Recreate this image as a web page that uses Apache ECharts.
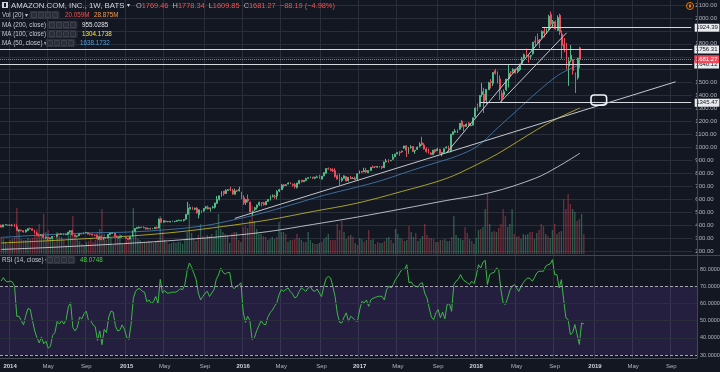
<!DOCTYPE html>
<html><head><meta charset="utf-8">
<script src="https://cdn.jsdelivr.net/npm/echarts/dist/echarts.min.js"></script>
<style>html,body{margin:0;padding:0;background:#131722;overflow:hidden}#c{width:720px;height:372px}</style>
</head><body><div id="c"></div><script>
// ---------- weekly categories (Mon dates), Dec 9 2013 onward ----------
const startWeek = [2013, 11, 9];
const weekCount = 311;
const categories = [];
(function(){ let t = Date.UTC(startWeek[0], startWeek[1], startWeek[2]);
  for (let i = 0; i < weekCount; i++) { categories.push(new Date(t).toISOString().slice(0,10)); t += 7*86400000; } })();

// ---------- weekly OHLC ----------
const opens = [
 399,385,402,401,
 398,398,400,386,358,362,357,347,358,373,372,363,338,320,320,326,301,306,297,298,315,313,330,328,331,325,327,346,358,323,313,318,334,332,342,342,332,331,323,322,293,312,288,305,300,328,337,338,316,305,306,316,
 307,297,292,311,350,375,377,384,380,379,371,374,370,372,382,377,449,423,432,427,425,428,428,430,436,434,436,445,484,527,537,523,532,480,506,509,530,537,528,536,538,567,599,627,663,644,668,675,668,638,667,665,
 656,612,577,601,578,505,520,536,556,573,571,557,584,596,622,624,625,663,673,711,706,717,724,714,711,691,722,748,735,745,761,767,771,761,769,776,755,780,800,836,832,825,820,782,764,745,762,775,743,766,759,763,
 757,798,815,812,823,807,822,848,851,847,851,852,843,888,899,896,908,927,951,962,967,995,1012,962,999,1007,972,985,1010,1036,1019,988,978,957,946,984,974,985,949,960,995,1009,973,1100,1118,1129,1141,1202,1173,1164,1188,1168,
 1172,1236,1324,1316,1409,1411,1364,1446,1509,1494,1592,1554,1530,1417,1406,1445,1529,1582,1589,1604,1585,1600,1648,1690,1724,1702,1705,1724,1821,1829,1827,1848,1898,1891,1916,2027,1958,1971,1903,2021,1876,1795,1784,1628,1673,1678,1577,1539,1769.46];
const closes = [
 384.2,402.2,404.4,398.0,
 397.7,399.6,387.6,358.7,361.1,357.4,346.8,362.1,372.1,370.6,360.6,338.5,323.7,317.1,324.9,303.8,308.0,297.6,297.7,312.2,312.6,329.7,327.3,332.2,324.6,327.9,346.2,355.9,324.0,312.4,316.8,333.2,331.6,339.0,342.7,331.3,331.3,323.4,322.1,294.5,311.0,287.1,305.5,299.9,327.8,339.5,338.6,316.5,307.7,306.1,316.7,308.5,
 296.9,290.7,312.4,354.5,374.3,381.8,383.7,380.2,380.1,370.6,373.2,370.6,372.3,382.7,375.6,445.1,421.8,433.7,426.0,427.6,429.2,430.8,429.9,434.9,438.1,437.7,443.5,483.0,529.4,536.2,522.6,531.5,494.5,518.0,499.0,529.4,540.3,524.3,532.5,539.8,570.8,599.0,625.9,659.4,642.4,668.5,673.3,672.6,640.2,664.1,662.8,675.9,
 607.1,570.2,596.4,587.0,502.1,507.1,534.1,555.2,575.1,569.5,558.2,582.9,598.5,620.8,625.9,620.5,659.6,674.0,709.9,702.8,712.2,725.5,717.9,707.9,699.0,725.7,745.8,735.4,744.9,758.8,766.6,772.6,764.5,769.5,772.4,760.1,778.5,804.7,837.3,834.0,823.0,819.0,776.3,755.1,739.0,760.2,780.4,740.3,768.7,757.8,760.6,749.9,
 796.0,817.1,808.3,823.3,810.1,821.4,845.9,845.2,849.5,852.3,853.0,845.6,886.5,894.9,884.7,898.5,925.0,949.0,961.4,959.8,971.5,1011.3,978.3,987.7,1003.7,968.0,978.8,1001.8,1025.7,1020.0,987.6,968.0,958.5,945.3,978.3,965.9,986.8,955.1,961.4,989.6,1002.9,982.9,1101.0,1120.7,1125.4,1129.9,1186.0,1162.4,1162.0,1179.1,1168.4,1169.5,
 1229.1,1305.2,1294.6,1402.1,1430.0,1339.6,1448.7,1500.0,1500.2,1578.9,1571.7,1495.6,1447.3,1372.0,1430.8,1527.8,1572.6,1581.0,1602.9,1574.4,1610.2,1641.5,1684.0,1716.0,1715.7,1699.8,1710.6,1813.0,1813.7,1817.3,1823.3,1896.2,1882.2,1905.4,2012.7,1952.1,1970.2,1915.0,2003.0,1889.7,1788.6,1764.0,1642.8,1665.5,1712.4,1593.4,1502.1,1690.2,1681.27];
const highs = [
 404,403,405,402,
 407,407,410,405,366,364,358,365,376,381,376,364,349,333,331,339,311,308,304,314,316,331,336,336,336,333,347,360,361,325,318,334,338,343,348,345,333,334,327,329,312,320,306,307,330,340,341,339,317,308,319,318,
 309,300,313,359,375,382,389,388,389,382,380,380,377,385,390,452,453,437,434,431,432,434,432,438,442,440,446,484,580,539,542,534,538,520,514,530,548,551,535,549,572,625,627,662,664,677,679,696,681,682,673,696,
 658,630,600,636,581,510,540,558,581,578,580,583,600,630,637,635,670,680,716,718,715,731,731,722,726,726,746,748,746,766,768,775,772,774,782,789,779,808,838,845,840,838,839,790,799,771,784,778,772,780,772,775,
 800,821,818,843,842,823,847,860,855,857,857,857,891,912,909,904,949,950,962,971,975,1013,1016,1001,1017,1010,979,1007,1040,1083,1033,1000,990,962,981,984,997,989,962,991,1008,1014,1105,1122,1143,1138,1186,1213,1175,1185,1195,1188,
 1229.5,1307,1339,1402,1499,1460,1449,1507,1528,1579,1606,1587,1556,1440,1448,1530,1638,1588,1611,1608,1620,1646,1699,1725,1763,1718,1715,1814,1858,1880,1838,1903,1925,1919,2025,2050.5,1984,1981,2020,2033,1903,1845,1807,1695,1791,1679,1578,1690.5,1778.34];
const lows = [
 383,385,399,394,
 393,390,387,356,347,351,343,343,355,368,358,337,322,311,315,299,295,284,290,295,308,305,325,325,322,324,322,342,320,311,304,315,328,330,337,329,322,320,315,292,285,285,284,293,298,325,333,312,300,295,305,307,
 292,285,290,307,350,369,375,378,377,366,367,365,368,370,372,376,418,419,422,422,421,424,422,426,433,430,428,443,479,520,518,515,488,452,492,504,524,520,505,528,528,565,590,620,628,640,664,662,634,636,656,660,
 600,556,556,574,500,475,510,520,548,544,550,554,580,590,614,604,599,655,671,688,702,715,716,698,683,682,715,729,735,739,756,763,756,755,764,759,755,777,798,828,815,810,767,754,710,734,760,740,736,755,756,748,
 748,795,803,810,803,801,818,843,840,843,846,833,843,884,884,896,906,925,947,935,959,989,927,950,990,965,951,980,1000,1013,984,960,952,940,941,955,972,948,931,958,993,965,961,1097,1115,1112,1135,1152,1125,1159,1167,1164,
 1170,1226,1280,1310,1390,1266,1336,1445,1456,1474,1563,1494,1366,1352,1385,1437,1463,1546,1577,1570,1573,1590,1643,1680,1700,1654,1683,1716,1784,1804,1766,1840,1850,1876,1906,1935,1932,1909,1902,1868,1685,1735,1603,1476,1656,1562,1420,1524,1609.85];
// weekly volume, millions
const volumes = [
 17,15,12,10,
 14,15,17,46,25,15,14,14,16,15,16,21,25,30,18,40,22,24,17,16,12,22,18,17,14,9,18,20,38,20,14,13,10,9,12,13,16,12,14,22,25,45,20,14,20,16,9,18,17,20,10,10,
 14,17,16,46,22,15,14,11,12,12,13,12,11,13,14,38,22,14,12,10,11,12,11,12,12,10,14,22,50,21,15,13,19,30,18,16,19,18,20,17,24,40,25,22,20,19,11,21,22,22,14,12,
 27,28,26,34,48,33,25,20,20,18,17,14,15,17,15,17,32,22,22,20,12,14,14,15,20,16,14,12,12,22,14,11,10,10,11,12,15,17,20,14,14,14,30,24,33,22,15,18,19,17,11,9,
 16,15,12,14,24,14,15,10,12,11,11,13,16,17,14,11,25,20,16,15,13,14,28,22,17,21,13,15,18,30,19,16,16,15,12,12,14,14,15,13,13,17,38,19,16,15,14,27,21,15,13,10,
 16,24,25,27,45,60,30,22,23,22,26,30,45,38,27,30,45,20,17,18,15,20,19,20,22,22,15,21,24,30,28,20,18,16,24,30,20,22,23,55,45,60,50,45,42,33,35,40,20.059];
// RSI(14) weekly
const rsiValues = [
 73,75,73,72.5,
 73,72.5,70,52.5,52.5,50,47.5,53,57,56.5,50,44,40,37,40.5,36.5,38,34,35,41.5,43,49.5,48,50,48,50.5,58,60.5,46,44,46,52,51,54,55.5,50,50,47.5,46.5,38.5,44,36,45,43,52,55.5,55,47,44,44.5,47.5,45,
 40.5,39,48,63,67,68.5,68.5,67,66.5,61,62,60,61,64,60,74,66,67.5,66,66,66.5,66.5,66.5,67.5,68.5,68,71,79,83.5,81,77.5,74,66,62,64,66,67,64,66,68,74,76.5,80.5,78,77,78,78,70,68.5,70,70.5,72,
 55,49,52.5,50,39,40,44,47,50,48,47.5,52,54.5,56,58.3,60.3,65,68,67,68,69,67,65.5,63.2,64,67,69,68,67,69,70,67.5,67,68.4,66,64,70,74.5,75.7,74.8,70,64,54.4,49,48.6,52,54.5,49.6,52.5,51.5,50,49.6,
 56.4,61.2,60.3,62,58.3,62.2,63,63.5,64,64.2,64,62,68,70,69,71,74,75.7,78,80,79.5,82.5,72,72.5,70.5,70,69.5,71.5,72,66,63.2,57.4,52,50.5,54.5,56.4,51.6,55,51,59.3,60,55.4,70.9,72.9,74,76.7,74,72.9,72,71,72.9,71.5,
 76,82.5,80.6,84,85,71,76.7,77.7,78,80.6,79.7,68,60.3,59.3,63,67.5,70,70.9,69,67,70,72,73.8,74.8,74.5,72.9,75,77.7,78.7,78.7,78.7,81.6,82.5,83,85.4,76.7,76.7,69,73.8,62.2,51.6,50.6,41.9,42.9,47.7,42,36.1,48.6,48.07];
// moving averages: [week index, value]
const ma200 = [[0,212],[20,226],[40,243],[60,262],[80,285],[100,313],[120,350],[140,405],[160,462],[180,525],[200,590],[220,652],[240,762],[250,850],[260,955.03]];
const ma100 = [[0,262],[20,278],[40,297],[60,318],[80,348],[100,390],[120,440],[140,505],[160,570],[180,660],[200,760],[214,870],[223,950],[232,1045],[241,1140],[250,1225],[260,1304.17]];
const ma50  = [[0,305],[20,325],[40,340],[55,345],[71,360],[90,392],[107,450],[120,505],[133,570],[145,630],[159,690],[170,740],[184,820],[195,880],[205,935],[214,1010],[223,1150],[232,1290],[241,1430],[250,1555],[256,1610],[260,1638.17]];
// drawn levels and trend lines
const levelsFull = [1756.31, 1640.12];
const levelsPartial = [[243, 1924.39], [215, 1345.47]];
const lastPrice = 1681.27;
const trendLines = [[[200,957],[248,1945]], [[224,1345],[254,1885]], [[105,452],[303,1507]]];
const boxWeeks = [265, 272], boxPrices = [1405, 1327];
const priceTicks = {min:200, max:2100, step:100, hidden:[1600,1700,1900]};
const rsiLevels = [80, 70, 60, 50, 40, 30];

// ---------- helpers ----------
function isTick(i){ if(i<=0) return false; const m=+categories[i].slice(5,7), pm=+categories[i-1].slice(5,7); return m!==pm && (m===1||m===5||m===9); }
function tickText(i){ const m=+categories[i].slice(5,7); return m===1?('{y|'+categories[i].slice(0,4)+'}'):(m===5?'May':'Sep'); }
const C = w => categories[w];
const UP='#53b987', DN='#eb4d5c', BG='#131722', GRID='#2a2e3b', TXT='#b2b5be';
const ohlc = opens.map((o,i)=>[o, closes[i], lows[i], highs[i]]);
const volData = volumes.map((v,i)=>({value:v, itemStyle:{color: closes[i]>=opens[i]?'rgba(83,185,135,0.42)':'rgba(235,77,92,0.42)'}}));

const axisLab = {color:TXT, fontSize:6, fontFamily:'Liberation Sans, Arial, sans-serif'};
const lvlLabel = (v,bg,fg,d)=>({show:true, position:'end', distance:d, formatter:v.toFixed(2), backgroundColor:bg, color:fg, fontSize:6, fontFamily:'Liberation Sans, Arial, sans-serif', padding:[1,1.5,1,1.5]});
const mlData = [];
levelsFull.forEach(v=>mlData.push({yAxis:v, lineStyle:{color:'#d5d8df', width:1.2, type:'solid'}, label:lvlLabel(v,'#e8eaee','#131722',2)}));
levelsPartial.forEach(([w,v])=>mlData.push([{coord:[C(w),v], lineStyle:{color:'#d5d8df', width:1.2, type:'solid'}, label:lvlLabel(v,'#e8eaee','#131722',3.5)},{coord:[C(weekCount-1),v]}]));
mlData.push({yAxis:lastPrice, lineStyle:{color:DN, width:1, type:'dotted'}, label:lvlLabel(lastPrice,DN,'#ffffff',2)});
trendLines.forEach(([a,b])=>mlData.push([{coord:[C(a[0]),a[1]], lineStyle:{color:'#c4c7cf', width:1, type:'solid'}, label:{show:false}},{coord:[C(b[0]),b[1]]}]));

const rsiMl = rsiLevels.map(v=>({yAxis:v, lineStyle:(v===70||v===30)?{color:'#a3a6af',type:[3,2],width:1}:{color:GRID,type:'solid',width:1},
  label:{show:true, position:'end', distance:3, formatter:v.toFixed(4), color:TXT, fontSize:5.5, fontFamily:'Liberation Sans, Arial, sans-serif'}}));

const xBase = {type:'category', data:categories, boundaryGap:true, axisTick:{show:false}};
const option = {
  backgroundColor: BG, animation:false,
  grid:[
    {left:0, right:23, top:0, height:358},
    {left:0, right:23, top:5, height:246},
    {left:0, right:23, top:5, height:249},
    {left:0, right:23, top:256, height:102}],
  xAxis:[
    Object.assign({}, xBase, {gridIndex:0, axisLine:{show:true, lineStyle:{color:'#4a4e5a'}},
      splitLine:{show:true, interval:(i)=>isTick(i), lineStyle:{color:GRID, width:1}},
      axisLabel:{show:true, interval:(i)=>isTick(i), formatter:(v,i)=>tickText(i), color:TXT, fontSize:6, margin:5,
        fontFamily:'Liberation Sans, Arial, sans-serif', rich:{y:{fontWeight:'bold', color:'#d1d4dc', fontSize:6, fontFamily:'Liberation Sans, Arial, sans-serif'}}}}),
    Object.assign({}, xBase, {gridIndex:1, show:false}),
    Object.assign({}, xBase, {gridIndex:2, show:false}),
    Object.assign({}, xBase, {gridIndex:3, show:false})],
  yAxis:[
    {gridIndex:0, show:false, min:0, max:1},
    {gridIndex:1, type:'value', position:'right', min:priceTicks.min, max:priceTicks.max, interval:priceTicks.step,
      axisLine:{show:false}, axisTick:{show:false}, splitLine:{show:true, lineStyle:{color:GRID}},
      axisLabel:Object.assign({margin:3, formatter:v=>priceTicks.hidden.includes(v)?'':v.toFixed(2)}, axisLab)},
    {gridIndex:2, type:'value', show:false, min:0, max:249},
    {gridIndex:3, type:'value', show:false, min:28.26, max:87.56}],
  series:[
    {type:'bar', xAxisIndex:2, yAxisIndex:2, data:volData, barWidth:'60%', z:1, silent:true},
    {type:'line', xAxisIndex:1, yAxisIndex:1, data:ma200.map(([w,v])=>[C(w),v]), smooth:0.35, showSymbol:false, lineStyle:{color:'rgba(222,224,232,0.8)', width:1}, z:3, silent:true},
    {type:'line', xAxisIndex:1, yAxisIndex:1, data:ma100.map(([w,v])=>[C(w),v]), smooth:0.35, showSymbol:false, lineStyle:{color:'rgba(215,205,40,0.75)', width:1}, z:3, silent:true},
    {type:'line', xAxisIndex:1, yAxisIndex:1, data:ma50.map(([w,v])=>[C(w),v]), smooth:0.35, showSymbol:false, lineStyle:{color:'rgba(70,130,185,0.8)', width:1}, z:3, silent:true},
    {type:'candlestick', xAxisIndex:1, yAxisIndex:1, data:ohlc, barWidth:'62%', z:4, silent:true,
      itemStyle:{color:UP, color0:DN, borderColor:UP, borderColor0:DN, borderWidth:1},
      markLine:{symbol:['none','none'], silent:true, animation:false, data:mlData}},
    {type:'line', xAxisIndex:3, yAxisIndex:3, data:rsiValues, showSymbol:false, lineStyle:{color:'#3cb846', width:1}, z:4, silent:true,
      markArea:{silent:true, itemStyle:{color:'rgba(120,70,200,0.18)'}, data:[[{yAxis:30},{yAxis:70}]]},
      markLine:{symbol:['none','none'], silent:true, animation:false, data:rsiMl}}
  ]
};
const chart = echarts.init(document.getElementById('c'), null, {width:720, height:372});
chart.setOption(option);

// ---------- overlay text & shapes ----------
const NARROW = '"Liberation Sans Narrow", "Liberation Sans", Arial, sans-serif';
const REG = '"Liberation Sans", Arial, sans-serif';
const g = [];
function txt(x,y,t,fill,font){ g.push({type:'text', silent:true, z:100, style:{x:x, y:y, text:t, fill:fill, font:font, verticalAlign:'middle'}}); }
function btns(x,y){ g.push({type:'rect', silent:true, z:100, shape:{x:x, y:y-3.5, width:29, height:7, r:1}, style:{fill:'#1e222d', stroke:'#363a45', lineWidth:0.8}});
  for(let k=0;k<4;k++) g.push({type:'rect', silent:true, z:101, shape:{x:x+1.5+k*7, y:y-2.5, width:5, height:5}, style:{fill:'#2a2e39', stroke:'#50535e', lineWidth:0.6}}); }
g.push({type:'line', silent:true, z:90, shape:{x1:0, y1:255.5, x2:720, y2:255.5}, style:{stroke:'#434651', lineWidth:1}});
g.push({type:'line', silent:true, z:90, shape:{x1:697.5, y1:0, x2:697.5, y2:358}, style:{stroke:'#434651', lineWidth:1}});
// title row
g.push({type:'rect', silent:true, z:100, shape:{x:2, y:2, width:6, height:6}, style:{fill:'#d1d4dc'}});
g.push({type:'rect', silent:true, z:101, shape:{x:4, y:3, width:2, height:4}, style:{fill:'#131722'}});
txt(11, 5.5, 'AMAZON.COM, INC., 1W, BATS', '#d1d4dc', '7.8px '+REG);
txt(127, 5.5, '▾', '#d1d4dc', '6px '+REG);
g.push({type:'text', silent:true, z:100, style:{x:136, y:5.5, verticalAlign:'middle', font:'7.4px '+REG,
  text:'{l|O}{v|1769.46}  {l|H}{v|1778.34}  {l|L}{v|1609.85}  {l|C}{v|1681.27}  {v|−88.19 (−4.98%)}',
  rich:{l:{fill:'#b2b5be', font:'7.4px '+REG}, v:{fill:'#ef5350', font:'7.4px '+REG}}}});
// indicator rows
const rows = [
  {y:15, name:'Vol (20) ▾', bx:30, vals:[[65,'20.059M','#ef5350'],[94,'28.875M','#f39a4c']]},
  {y:25, name:'MA (200, close) ▾', bx:48, vals:[[82,'955.0285','#e0e3eb']]},
  {y:34, name:'MA (100, close) ▾', bx:48, vals:[[82,'1304.1738','#f5e642']]},
  {y:43, name:'MA (50, close) ▾', bx:46, vals:[[80,'1638.1732','#4f9fd8']]},
  {y:260, name:'RSI (14, close) ▾', bx:46, vals:[[80,'48.0748','#4cd04c']]}];
rows.forEach(r=>{ txt(2, r.y, r.name, '#c3c6ce', '6.3px '+NARROW); btns(r.bx, r.y); r.vals.forEach(([x,t,c])=>txt(x, r.y, t, c, '6.3px '+NARROW)); });
// orange icon
g.push({type:'circle', silent:true, z:100, shape:{cx:690, cy:6, r:3.5}, style:{fill:'none', stroke:'#f57c00', lineWidth:1}});
g.push({type:'rect', silent:true, z:100, shape:{x:689, y:4.5, width:2, height:3}, style:{fill:'#f57c00'}});
// rounded box placed through the price scales
const p1 = chart.convertToPixel({xAxisIndex:1, yAxisIndex:1}, [C(boxWeeks[0]), boxPrices[0]]);
const p2 = chart.convertToPixel({xAxisIndex:1, yAxisIndex:1}, [C(boxWeeks[1]), boxPrices[1]]);
g.push({type:'rect', silent:true, z:100, shape:{x:p1[0], y:p1[1], width:p2[0]-p1[0], height:p2[1]-p1[1], r:3}, style:{fill:'none', stroke:'#f0f2f5', lineWidth:1.6}});
chart.setOption({graphic:g});
</script></body></html>
